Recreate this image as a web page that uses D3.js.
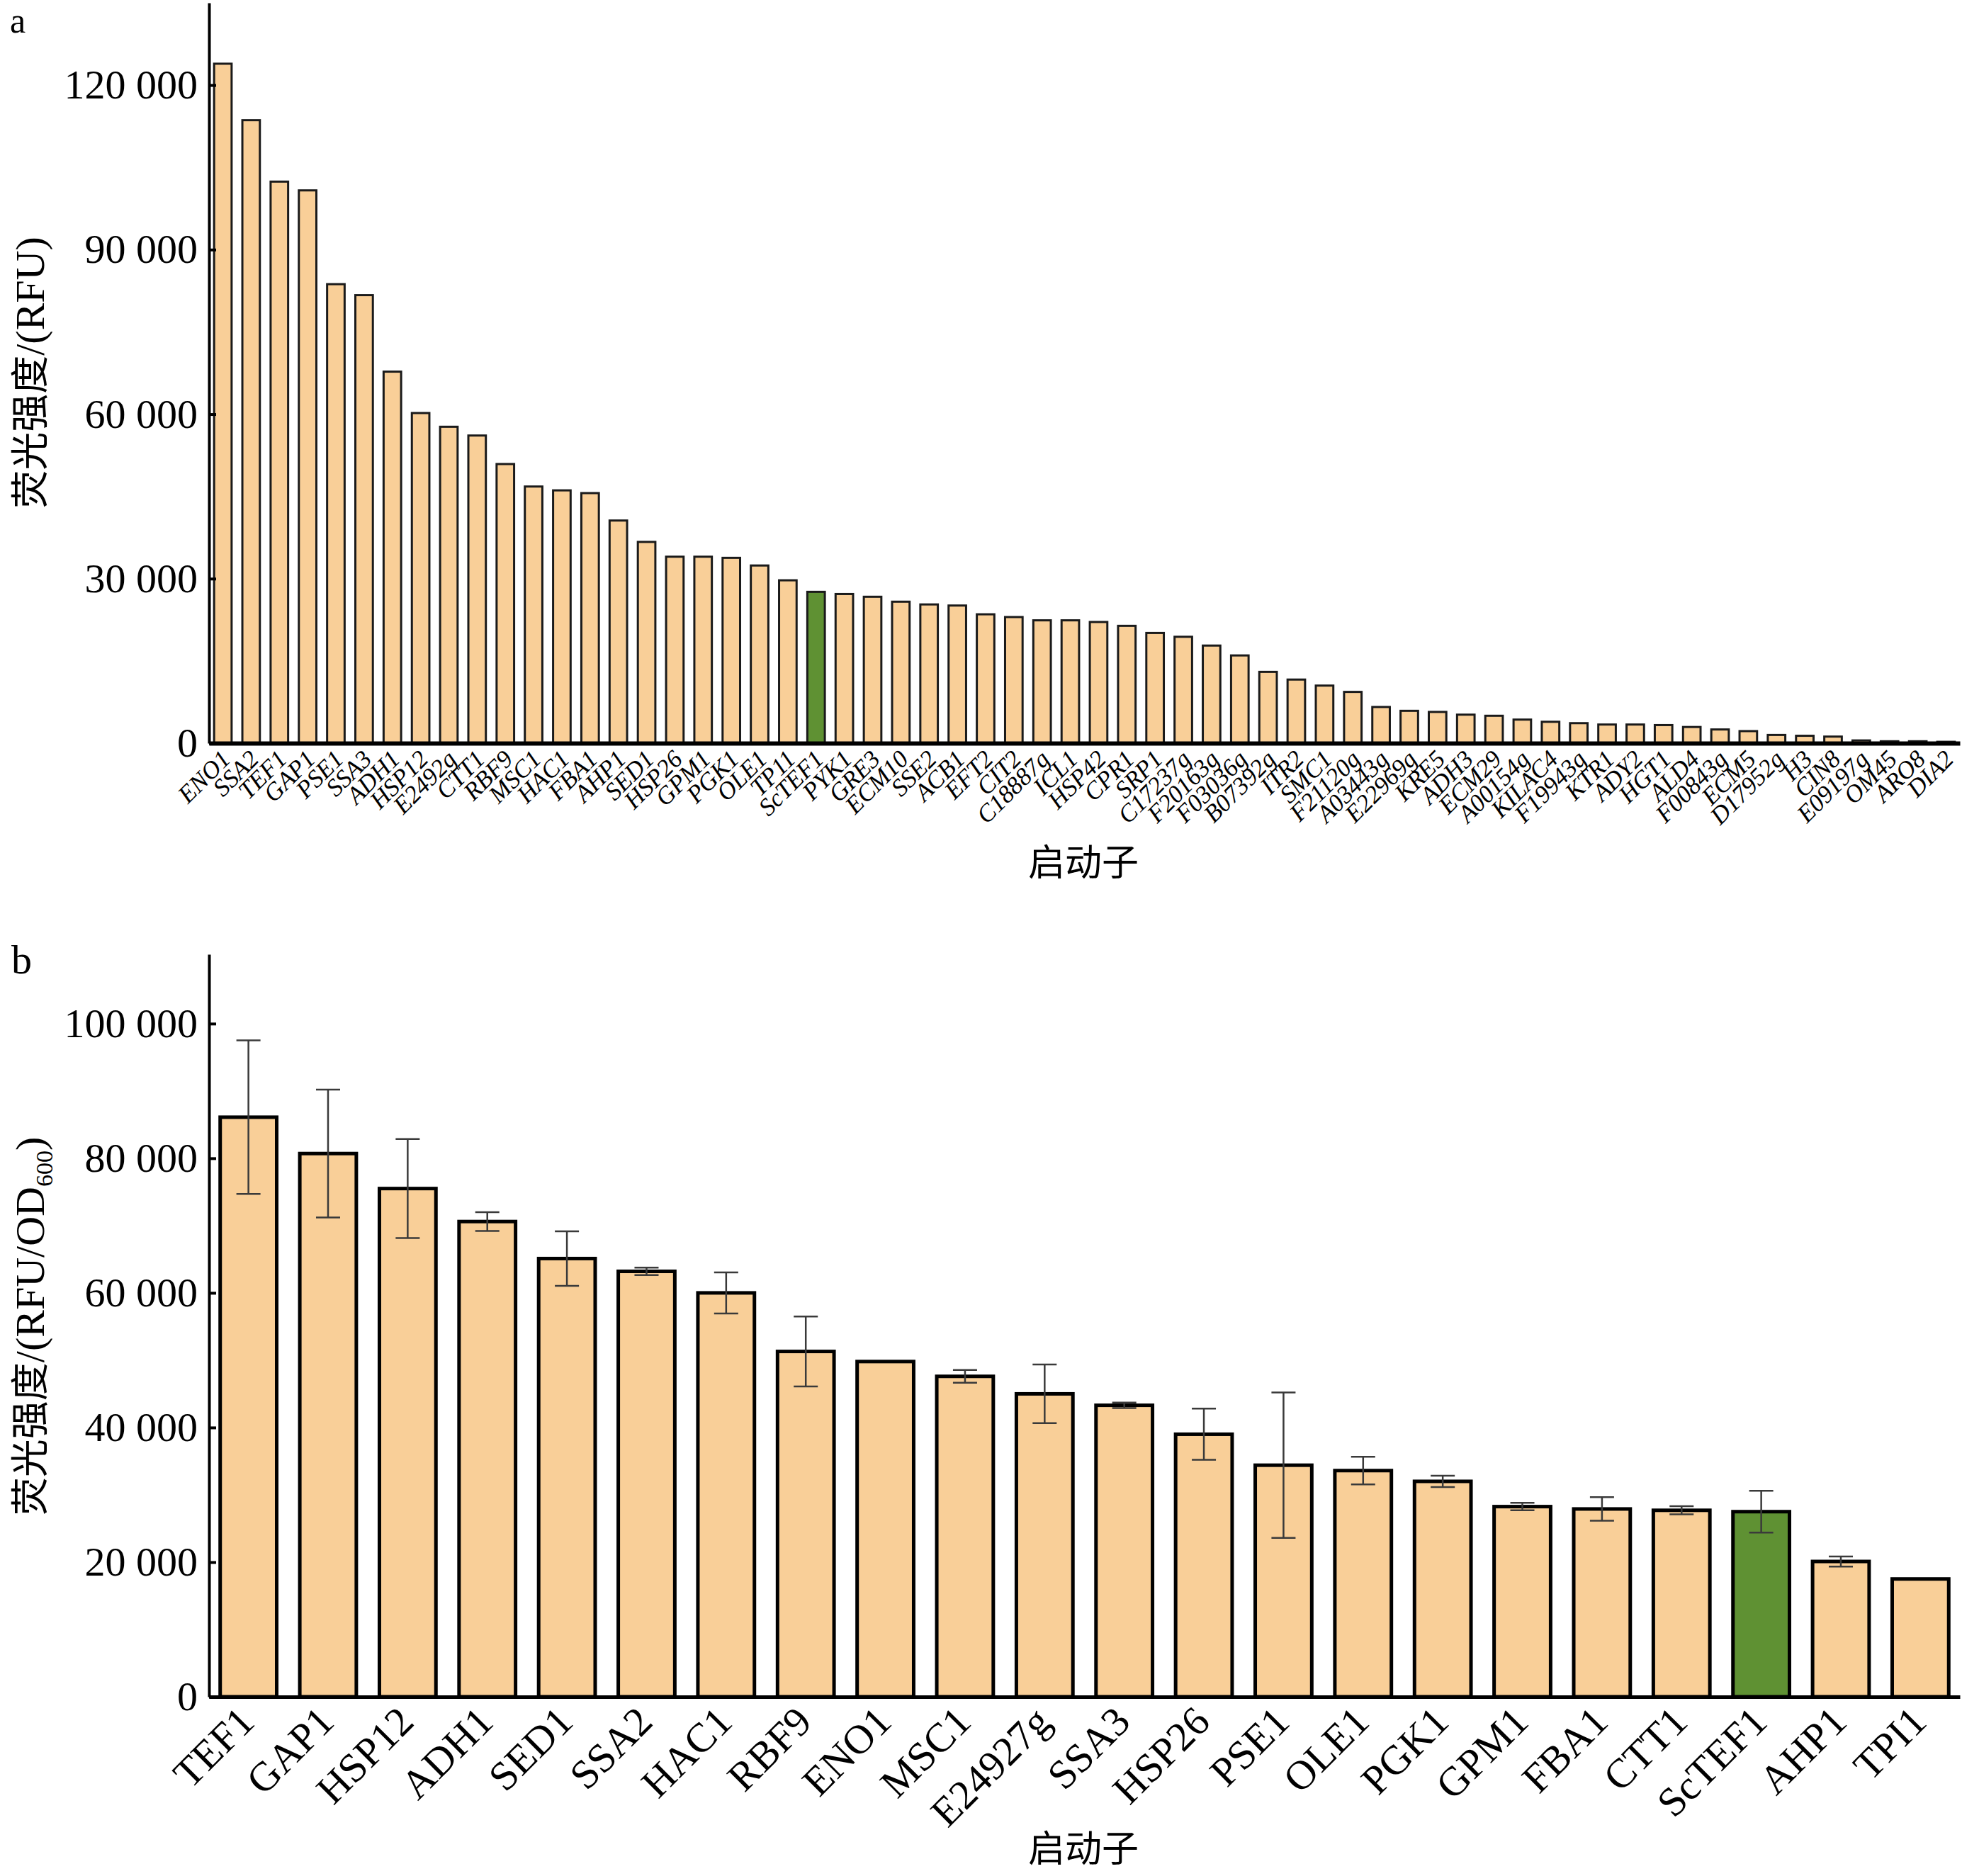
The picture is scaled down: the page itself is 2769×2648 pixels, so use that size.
<!DOCTYPE html>
<html><head><meta charset="utf-8">
<script src="https://cdn.jsdelivr.net/npm/d3@7"></script>
<style>body{margin:0;background:#fff}</style>
</head><body>
<script>
// ---- data: panel a ----
const catsA = ["ENO1","SSA2","TEF1","GAP1","PSE1","SSA3","ADH1","HSP12","E2492g","CTT1","RBF9","MSC1","HAC1","FBA1","AHP1","SED1","HSP26","GPM1","PGK1","OLE1","TP11","ScTEF1","PYK1","GRE3","ECM10","SSE2","ACB1","EFT2","CIT2","C18887g","ICL1","HSP42","CPR1","SRP1","C17237g","F20163g","F03036g","B07392g","ITR2","SMC1","F21120g","A03443g","E22969g","KRE5","ADH3","ECM29","A00154g","KILAC4","F19943g","KTR1","ADY2","HGT1","ALD4","F00843g","ECM5","D17952g","H3","CIN8","E09197g","OM45","ARO8","DIA2"];
const valsA = [123900,113600,102400,100800,83700,81700,67750,60200,57700,56100,50900,46800,46100,45600,40600,36700,34000,34000,33800,32400,29700,27600,27200,26700,25800,25300,25100,23500,23000,22400,22400,22100,21400,20100,19400,17800,16000,13000,11600,10500,9350,6600,5900,5700,5200,5000,4300,3900,3650,3400,3400,3300,2950,2500,2200,1500,1350,1200,500,350,350,250];
const ticksA = [0,30000,60000,90000,120000];
// ---- data: panel b ----
const catsB = ["TEF1","GAP1","HSP12","ADH1","SED1","SSA2","HAC1","RBF9","ENO1","MSC1","E24927g","SSA3","HSP26","PSE1","OLE1","PGK1","GPM1","FBA1","CTT1","ScTEF1","AHP1","TPI1"];
const valsB = [86100,80700,75500,70600,65100,63200,60000,51300,49800,47600,45000,43300,39000,34400,33600,32000,28250,27900,27700,27500,20100,17500];
const errB  = [11400,9500,7350,1400,4050,550,3050,5200,0,950,4350,400,3800,10800,2050,850,550,1750,600,3100,750,0];
const ticksB = [0,20000,40000,60000,80000,100000];
const highlight = "ScTEF1";

const W = 2769, H = 2648;
const fillC = "#F9CF98", greenC = "#5F9133";
const serif = "'Liberation Serif','Times New Roman',serif";
const cjk = "'Noto Sans CJK SC',sans-serif";
const fmt = v => d3.format(",")(v).replace(/,/g, " ");

const svg = d3.select("body").append("svg").attr("width", W).attr("height", H)
  .style("background","#fff");

// ===== Panel a =====
const xA = d3.scaleBand().domain(catsA).range([295, 2766]).paddingInner(0.38).paddingOuter(0.18);
const yA = d3.scaleLinear().domain([0, 135000]).range([1049, 4]);
const gA = svg.append("g");
gA.selectAll("rect").data(catsA).join("rect")
  .attr("x", d => xA(d)).attr("width", xA.bandwidth())
  .attr("y", (d,i) => yA(valsA[i])).attr("height", (d,i) => yA(0) - yA(valsA[i]))
  .attr("fill", d => d === highlight ? greenC : fillC)
  .attr("stroke", "#1a1a1a").attr("stroke-width", 3);
const axAy = gA.append("g").attr("transform","translate(295,0)")
  .call(d3.axisLeft(yA).tickValues(ticksA).tickFormat(fmt).tickSizeInner(-10).tickSizeOuter(0).tickPadding(16));
axAy.select(".domain").attr("stroke","#000").attr("stroke-width",4);
axAy.selectAll(".tick line").attr("stroke","#000").attr("stroke-width",4);
axAy.selectAll(".tick text").attr("font-family", serif).attr("font-size", 58).attr("fill","#000");
const axAx = gA.append("g").attr("transform","translate(0,1049)")
  .call(d3.axisBottom(xA).tickSize(0).tickFormat(""));
axAx.select(".domain").attr("stroke","#000").attr("stroke-width",6);
gA.selectAll(".xlabA").data(catsA).join("text").attr("class","xlabA")
  .attr("transform", d => `translate(${xA(d) + xA.bandwidth()/2 + 4},${1049 + 16}) rotate(-45)`)
  .attr("text-anchor","end").attr("dy","0.35em")
  .attr("font-family", serif).attr("font-style","italic").attr("font-size", 35)
  .text(d => d);
gA.append("text").attr("x", 1529).attr("y", 1236).attr("text-anchor","middle")
  .attr("font-family", cjk).attr("font-size", 52).text("启动子");
gA.append("text").attr("transform","translate(62,526) rotate(-90)").attr("text-anchor","middle")
  .attr("font-family", cjk).attr("font-size", 54)
  .call(t => { t.append("tspan").text("荧光强度");
               t.append("tspan").attr("font-family", serif).attr("font-size",58).text("/(RFU)"); });
svg.append("text").attr("x", 14).attr("y", 46).attr("font-family", serif).attr("font-size", 50).text("a");

// ===== Panel b =====
const xB = d3.scaleBand().domain(catsB).range([295, 2766]).paddingInner(0.29).paddingOuter(0.14);
const yB = d3.scaleLinear().domain([0, 110300]).range([2395, 1347]);
const gB = svg.append("g");
gB.selectAll("rect").data(catsB).join("rect")
  .attr("x", d => xB(d)).attr("width", xB.bandwidth())
  .attr("y", (d,i) => yB(valsB[i])).attr("height", (d,i) => yB(0) - yB(valsB[i]))
  .attr("fill", d => d === highlight ? greenC : fillC)
  .attr("stroke", "#000").attr("stroke-width", 5);
// error bars
const eb = gB.selectAll(".eb").data(catsB.map((d,i)=>({d, v: valsB[i], e: errB[i]})).filter(o => o.e > 0))
  .join("g").attr("class","eb").attr("stroke","#3a3a3a").attr("stroke-width",2.5);
eb.append("line").attr("x1", o => xB(o.d)+xB.bandwidth()/2).attr("x2", o => xB(o.d)+xB.bandwidth()/2)
  .attr("y1", o => yB(o.v + o.e)).attr("y2", o => yB(o.v - o.e));
eb.append("line").attr("x1", o => xB(o.d)+xB.bandwidth()/2-17).attr("x2", o => xB(o.d)+xB.bandwidth()/2+17)
  .attr("y1", o => yB(o.v + o.e)).attr("y2", o => yB(o.v + o.e));
eb.append("line").attr("x1", o => xB(o.d)+xB.bandwidth()/2-17).attr("x2", o => xB(o.d)+xB.bandwidth()/2+17)
  .attr("y1", o => yB(o.v - o.e)).attr("y2", o => yB(o.v - o.e));
const axBy = gB.append("g").attr("transform","translate(295,0)")
  .call(d3.axisLeft(yB).tickValues(ticksB).tickFormat(fmt).tickSizeInner(-10).tickSizeOuter(0).tickPadding(16));
axBy.select(".domain").attr("stroke","#000").attr("stroke-width",4);
axBy.selectAll(".tick line").attr("stroke","#000").attr("stroke-width",4);
axBy.selectAll(".tick text").attr("font-family", serif).attr("font-size", 58).attr("fill","#000");
const axBx = gB.append("g").attr("transform","translate(0,2395)")
  .call(d3.axisBottom(xB).tickSize(0).tickFormat(""));
axBx.select(".domain").attr("stroke","#000").attr("stroke-width",5);
gB.selectAll(".xlabB").data(catsB).join("text").attr("class","xlabB")
  .attr("transform", d => `translate(${xB(d) + xB.bandwidth()/2 - 3},${2395 + 24}) rotate(-45)`)
  .attr("text-anchor","end").attr("dy","0.35em")
  .attr("font-family", serif).attr("font-size", 58)
  .text(d => d);
gB.append("text").attr("x", 1529).attr("y", 2628).attr("text-anchor","middle")
  .attr("font-family", cjk).attr("font-size", 52).text("启动子");
gB.append("text").attr("transform","translate(62,1872) rotate(-90)").attr("text-anchor","middle")
  .attr("font-family", cjk).attr("font-size", 54)
  .call(t => { t.append("tspan").text("荧光强度");
               t.append("tspan").attr("font-family", serif).attr("font-size",58).text("/(RFU/OD");
               t.append("tspan").attr("font-family", serif).attr("font-size",34).attr("dy", 12).text("600");
               t.append("tspan").attr("font-family", serif).attr("font-size",58).attr("dy", -12).text(")"); });
svg.append("text").attr("x", 16).attr("y", 1374).attr("font-family", serif).attr("font-size", 58).text("b");
</script>
</body></html>
